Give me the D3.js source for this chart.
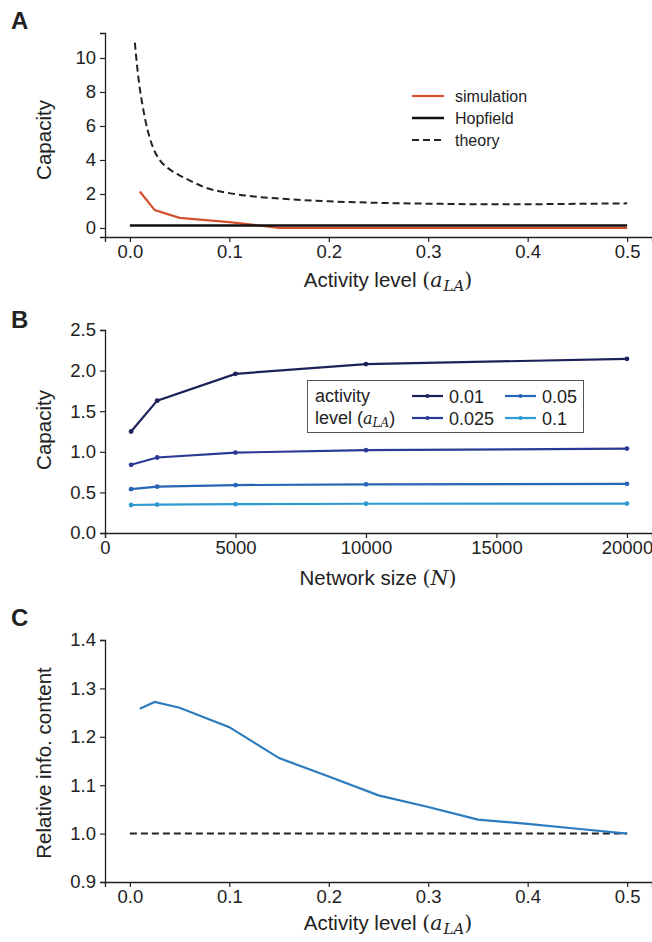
<!DOCTYPE html>
<html><head><meta charset="utf-8">
<script src="https://cdn.jsdelivr.net/npm/d3@7"></script>
<style>
body{margin:0;background:#fff;}
text{font-family:"Liberation Sans",Arial,Helvetica,sans-serif;fill:#222;}
</style></head><body>
<svg id="chart" width="652" height="942"></svg>
<script>
// ---------- Panel A data ----------
const simA_x = [0.01, 0.025, 0.05, 0.1, 0.15, 0.2, 0.25, 0.3, 0.35, 0.4, 0.45, 0.5];
const simA_y = [2.15, 1.05, 0.6, 0.35, 0.0, 0.0, 0.0, 0.0, 0.0, 0.0, 0.0, 0.0];
const hopA_x = [0.0, 0.5];
const hopA_y = [0.14, 0.14];
const theoryA_x = [0.005, 0.0075, 0.01, 0.0125, 0.015, 0.02, 0.025, 0.03, 0.04, 0.05, 0.06, 0.075, 0.1, 0.125, 0.15, 0.2, 0.25, 0.3, 0.35, 0.4, 0.45, 0.5];
const theoryA_y = [10.9, 9.4, 8.2, 7.3, 6.5, 5.3, 4.5, 4.0, 3.45, 3.1, 2.8, 2.4, 2.05, 1.85, 1.73, 1.57, 1.48, 1.43, 1.4, 1.4, 1.42, 1.45];
const ticksA_x = [0.0, 0.1, 0.2, 0.3, 0.4, 0.5];
const ticksA_y = [0, 2, 4, 6, 8, 10];
const legendA = ["simulation", "Hopfield", "theory"];

// ---------- Panel B data ----------
const sizesB = [1000, 2000, 5000, 10000, 20000];
const activityB = ["0.01", "0.025", "0.05", "0.1"];
const capB_001 = [1.25, 1.63, 1.96, 2.08, 2.145];
const capB_0025 = [0.84, 0.93, 0.99, 1.02, 1.04];
const capB_005 = [0.54, 0.57, 0.59, 0.60, 0.605];
const capB_01 = [0.345, 0.35, 0.355, 0.36, 0.362];
const ticksB_x = [0, 5000, 10000, 15000, 20000];
const ticksB_y = [0.0, 0.5, 1.0, 1.5, 2.0, 2.5];

// ---------- Panel C data ----------
const infoC_x = [0.01, 0.025, 0.05, 0.1, 0.15, 0.2, 0.25, 0.3, 0.35, 0.4, 0.45, 0.5];
const infoC_y = [1.258, 1.272, 1.26, 1.22, 1.156, 1.118, 1.079, 1.055, 1.029, 1.02, 1.01, 1.0];
const baseC_x = [0.0, 0.5];
const baseC_y = [1.0, 1.0];
const ticksC_x = [0.0, 0.1, 0.2, 0.3, 0.4, 0.5];
const ticksC_y = [0.9, 1.0, 1.1, 1.2, 1.3, 1.4];

const colors = {sim:"#d4502a", hop:"#111111", theory:"#222222",
  b:["#1b2259","#2b3a94","#2766b5","#2e9bd0"], c:"#2b7bbe", dash:"#222222"};

const svg = d3.select("#chart");
const TICKFS = 18.5, LABFS = 20.5;

function styleAxis(g){
  g.selectAll(".domain").attr("stroke","#222").attr("stroke-width",1.3);
  g.selectAll(".tick line").attr("stroke","#222").attr("stroke-width",1.2);
  g.selectAll(".tick text").attr("font-size",TICKFS).attr("fill","#333")
    .attr("font-family",'"Liberation Sans",Arial,sans-serif');
}

function drawAxes(x, y, xt, yt, xfmt, yfmt){
  const gx = svg.append("g").attr("transform",`translate(0,${y.range()[0]})`)
    .call(d3.axisBottom(x).tickValues(xt).tickFormat(xfmt).tickSizeOuter(0).tickSize(5).tickPadding(3));
  styleAxis(gx);
  const gy = svg.append("g").attr("transform",`translate(${x.range()[0]},0)`)
    .call(d3.axisLeft(y).tickValues(yt).tickFormat(yfmt).tickSizeOuter(0).tickSize(5).tickPadding(4));
  styleAxis(gy);
}

function mathLabel(x, yBase, prefix, sym, sub){
  const t = svg.append("text").attr("x",x).attr("y",yBase).attr("text-anchor","middle").attr("font-size",LABFS);
  t.append("tspan").text(prefix);
  t.append("tspan").attr("font-family",'"DejaVu Serif",serif').attr("font-weight","300").text("(");
  t.append("tspan").attr("font-family",'"DejaVu Serif",serif').attr("font-style","italic").text(sym);
  if(sub) t.append("tspan").attr("font-family",'"DejaVu Serif",serif').attr("font-style","italic")
    .attr("font-size",15).attr("dy",4).attr("dx",1).text(sub);
  t.append("tspan").attr("font-family",'"DejaVu Serif",serif').attr("dy",sub?-4:0).text(")");
  return t;
}
function yLabel(x, yc, txt){
  svg.append("text").attr("transform",`translate(${x},${yc}) rotate(-90)`)
    .attr("text-anchor","middle").attr("font-size",LABFS).text(txt);
}
function panelLetter(x,y,l){
  svg.append("text").attr("x",x).attr("y",y).attr("font-size",24).attr("font-weight","bold").text(l);
}
const zip = (a,b)=>a.map((v,i)=>[v,b[i]]);

// ================= Panel A =================
const xA = d3.scaleLinear().domain([-0.025,0.525]).range([105,652]);
const yA = d3.scaleLinear().domain([-0.53,11.47]).range([237,33]);
drawAxes(xA,yA,ticksA_x,ticksA_y,d3.format(".1f"),d3.format("d"));
const lineA = d3.line().x(d=>xA(d[0])).y(d=>yA(d[1]));
const curveA = d3.line().x(d=>xA(d[0])).y(d=>yA(d[1])).curve(d3.curveMonotoneX);
svg.append("path").datum(zip(simA_x,simA_y)).attr("d",lineA).attr("fill","none")
  .attr("stroke",colors.sim).attr("stroke-width",2.2);
svg.append("path").datum(zip(hopA_x,hopA_y)).attr("d",lineA).attr("fill","none")
  .attr("stroke",colors.hop).attr("stroke-width",2.5);
svg.append("path").datum(zip(theoryA_x,theoryA_y)).attr("d",curveA).attr("fill","none")
  .attr("stroke",colors.theory).attr("stroke-width",2).attr("stroke-dasharray","7,4");
// legend A
const legA = svg.append("g");
const legAStyles = [
  {c:colors.sim,w:2.2,d:null},{c:colors.hop,w:2.5,d:null},{c:colors.theory,w:2,d:"7,4"}];
legendA.forEach((n,i)=>{
  const yy = 96 + i*22;
  legA.append("line").attr("x1",412).attr("x2",444).attr("y1",yy).attr("y2",yy)
    .attr("stroke",legAStyles[i].c).attr("stroke-width",legAStyles[i].w)
    .attr("stroke-dasharray",legAStyles[i].d);
  legA.append("text").attr("x",455).attr("y",yy+5.5).attr("font-size",16).text(n);
});
yLabel(51,140,"Capacity");
mathLabel(388,287,"Activity level ","a","LA");
panelLetter(11,29,"A");

// ================= Panel B =================
const xB = d3.scaleLinear().domain([0,20960]).range([105,652]);
const yB = d3.scaleLinear().domain([0,2.5]).range([533,330]);
drawAxes(xB,yB,ticksB_x,ticksB_y,d3.format("d"),d3.format(".1f"));
const seriesB = [capB_001,capB_0025,capB_005,capB_01];
const lineB = d3.line().x(d=>xB(d[0])).y(d=>yB(d[1]));
seriesB.forEach((s,i)=>{
  const pts = zip(sizesB,s);
  svg.append("path").datum(pts).attr("d",lineB).attr("fill","none")
    .attr("stroke",colors.b[i]).attr("stroke-width",2.2);
  svg.append("g").selectAll("circle").data(pts).join("circle")
    .attr("cx",d=>xB(d[0])).attr("cy",d=>yB(d[1])).attr("r",2.4).attr("fill",colors.b[i]);
});
// legend B
const legB = svg.append("g");
legB.append("rect").attr("x",307.5).attr("y",380.5).attr("width",276).attr("height",52)
  .attr("fill","#fff").attr("stroke","#555").attr("stroke-width",1);
legB.append("text").attr("x",315).attr("y",402).attr("font-size",18).text("activity");
const lb2 = legB.append("text").attr("x",315).attr("y",424).attr("font-size",18);
lb2.append("tspan").text("level (");
lb2.append("tspan").attr("font-family",'"DejaVu Serif",serif').attr("font-style","italic").attr("font-size",16).text("a");
lb2.append("tspan").attr("font-family",'"DejaVu Serif",serif').attr("font-style","italic").attr("font-size",12).attr("dy",3).text("LA");
lb2.append("tspan").attr("dy",-3).text(")");
activityB.forEach((n,i)=>{
  const col = Math.floor(i/2), row = i%2;
  const x0 = col===0 ? 412 : 505, yy = 396 + row*22;
  legB.append("line").attr("x1",x0).attr("x2",x0+31).attr("y1",yy).attr("y2",yy)
    .attr("stroke",colors.b[i]).attr("stroke-width",2.2);
  legB.append("circle").attr("cx",x0+15.5).attr("cy",yy).attr("r",2).attr("fill",colors.b[i]);
  legB.append("text").attr("x",x0+37).attr("y",yy+6.5).attr("font-size",18).text(n);
});
yLabel(51,430,"Capacity");
mathLabel(378,585,"Network size ","N",null);
panelLetter(11,328,"B");

// ================= Panel C =================
const xC = d3.scaleLinear().domain([-0.025,0.525]).range([105,652]);
const yC = d3.scaleLinear().domain([0.9,1.4]).range([882,640]);
drawAxes(xC,yC,ticksC_x,ticksC_y,d3.format(".1f"),d3.format(".1f"));
const lineC = d3.line().x(d=>xC(d[0])).y(d=>yC(d[1]));
svg.append("path").datum(zip(baseC_x,baseC_y)).attr("d",lineC).attr("fill","none")
  .attr("stroke",colors.dash).attr("stroke-width",2).attr("stroke-dasharray","7,4");
svg.append("path").datum(zip(infoC_x,infoC_y)).attr("d",lineC).attr("fill","none")
  .attr("stroke",colors.c).attr("stroke-width",2.2);
yLabel(51,763,"Relative info. content");
mathLabel(388,930,"Activity level ","a","LA");
panelLetter(11,626,"C");
</script>
</body></html>
